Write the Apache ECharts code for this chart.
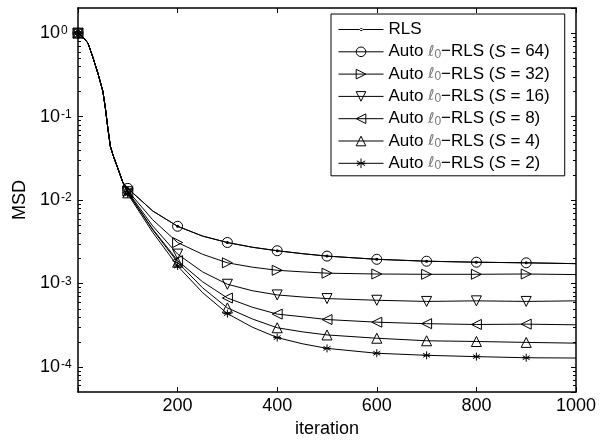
<!DOCTYPE html>
<html><head><meta charset="utf-8">
<script src="https://cdn.jsdelivr.net/npm/echarts@6/dist/echarts.min.js"></script>
<style>html,body{margin:0;padding:0;background:#fff}#c{width:600px;height:443px}</style>
</head><body><div id="c"></div>
<script>
// ---- data ----
const iterations = [0,10,20,30,40,50,55,60,65,70,80,90,100,150,200,250,300,350,400,450,500,600,700,800,900,1000];
const markerIterations = [0,100,200,300,400,500,600,700,800,900];
// common transient, iterations 0..90
const commonHead = [1.0,0.89,0.76,0.51,0.33,0.2,0.126,0.072,0.044,0.035,0.024,0.0163];
// iterations 100,150,200,250,300,350,400,450,500,600,700,800,900,1000
const msdRLS = [0.0138,0.0074,0.00485,0.0037,0.0031,0.00272,0.00247,0.00228,0.00213,0.00195,0.00185,0.0018,0.00177,0.00173];
const msdS64 = [0.0138,0.0074,0.00485,0.0037,0.0031,0.00272,0.00247,0.00228,0.00213,0.00195,0.00185,0.0018,0.00177,0.00173];
const msdS32 = [0.0129,0.0058,0.0031,0.00224,0.00177,0.00157,0.00144,0.00138,0.00133,0.0013,0.00129,0.00129,0.0013,0.00128];
const msdS16 = [0.0126,0.0049,0.00225,0.00138,0.00098,0.00082,0.00073,0.00069,0.00066,0.00063,0.00061,0.00062,0.00061,0.00062];
const msdS8  = [0.0123,0.0045,0.00188,0.00105,0.00067,0.00052,0.00043,0.0004,0.00037,0.000344,0.00033,0.000323,0.000326,0.00032];
const msdS4  = [0.0122,0.0044,0.0018,0.00089,0.00051,0.000376,0.000295,0.000264,0.000242,0.000221,0.000206,0.000202,0.000197,0.000193];
const msdS2  = [0.0118,0.0041,0.00162,0.00078,0.000436,0.0003,0.000225,0.00019,0.000167,0.000146,0.000138,0.000133,0.000129,0.000128];
const sValues = [64,32,16,8,4,2];
const xTickLabels = [200,400,600,800,1000];
const yTickExponents = [-4,-3,-2,-1,0];
const yMinorTicks = [6e-5,7e-5,8e-5,9e-5,
  2e-4,3e-4,4e-4,5e-4,6e-4,7e-4,8e-4,9e-4,
  2e-3,3e-3,4e-3,5e-3,6e-3,7e-3,8e-3,9e-3,
  2e-2,3e-2,4e-2,5e-2,6e-2,7e-2,8e-2,9e-2,
  2e-1,3e-1,4e-1,5e-1,6e-1,7e-1,8e-1,9e-1];

// ---- chart ----
const FONT = "'Liberation Sans', Arial, Helvetica, sans-serif";
const chart = echarts.init(document.getElementById('c'), null, {renderer:'canvas'});

function buildData(tail){
  const vals = commonHead.concat(tail);
  return iterations.map((it,i) => {
    const item = {value:[it, vals[i]]};
    if (markerIterations.indexOf(it) < 0) item.symbol = 'none';
    return item;
  });
}
const asterisk = 'path://M5,0L5,10M0.67,2.5L9.33,7.5M0.67,7.5L9.33,2.5M0,5L10,5';
const rlsIcon = 'path://M0,5.5L45,5.5L45,6.5L0,6.5Z M21.2,6A1.5,1.5 0 1 0 24.2,6A1.5,1.5 0 1 0 21.2,6Z';

const names = ['RLS'].concat(sValues.map(s => 'Auto \u21130-RLS (S = ' + s + ')'));
const tails = [msdRLS, msdS64, msdS32, msdS16, msdS8, msdS4, msdS2];
const markerDefs = [
  {symbol:'circle', size:3, rotate:0, fill:'#000'},
  {symbol:'circle', size:10, rotate:0},
  {symbol:'triangle', size:10, rotate:-90},
  {symbol:'triangle', size:10, rotate:180},
  {symbol:'triangle', size:10, rotate:90},
  {symbol:'triangle', size:10, rotate:0},
  {symbol:asterisk, size:8, rotate:0}
];

const lineSeries = names.map((n,k) => {
  const m = markerDefs[k];
  return {
    name:n, type:'line', data:buildData(tails[k]),
    xAxisIndex:0, yAxisIndex:0,
    symbol:m.symbol, symbolSize:m.size, symbolRotate:m.rotate, showAllSymbol:true,
    smooth:false,
    lineStyle:{color:'#000', width:1},
    itemStyle:{color: m.fill || 'rgba(0,0,0,0)', borderColor:'#000', borderWidth: m.fill ? 0 : 1},
    emphasis:{disabled:true}, animation:false,
    z: k===0 ? 5 : 3
  };
});
const ordered = lineSeries.slice(1).concat([lineSeries[0]]);

const minorTickSeries = {
  type:'custom', name:'minor', silent:true, animation:false,
  xAxisIndex:0, yAxisIndex:0, z:10,
  data: yMinorTicks.map(v => [0, v]),
  encode:{x:0, y:1},
  renderItem: function(params, api){
    const p = api.coord([0, api.value(1)]);
    const cs = params.coordSys;
    const y = Math.round(p[1]) + 0.5;
    return {type:'group', children:[
      {type:'line', shape:{x1:cs.x, y1:y, x2:cs.x+3, y2:y}, style:{stroke:'#000', lineWidth:1}},
      {type:'line', shape:{x1:cs.x+cs.width, y1:y, x2:cs.x+cs.width-3, y2:y}, style:{stroke:'#000', lineWidth:1}}
    ]};
  }
};

const axisLineStyle = {color:'#000', width:1.5};
const option = {
  backgroundColor:'#fff',
  animation:false,
  grid:{left:78, right:24, top:8, bottom:44},
  legend:{
    orient:'vertical', left:331, top:14,
    padding:[7,15,4,7], itemWidth:45, itemHeight:12, itemGap:5.3, itemTextGap:10,
    backgroundColor:'#fff', borderColor:'#000', borderWidth:1, borderRadius:0,
    selectedMode:false,
    lineStyle:{width:1, color:'#000'},
    itemStyle:{borderWidth:1},
    data:[{name:'RLS', icon:rlsIcon, itemStyle:{borderWidth:0}}].concat(names.slice(1)),
    formatter: function(name){
      if (name === 'RLS') return '{t|RLS}';
      const s = name.match(/= (\d+)/)[1];
      return '{t|Auto }{l|\u2113}{z|0}{t|\u2212RLS (}{i|S}{t| = ' + s + ')}';
    },
    textStyle:{fontFamily:FONT, fontSize:17, color:'#000', lineHeight:17,
      rich:{
        t:{fontFamily:FONT, fontSize:17, color:'#000', lineHeight:17},
        i:{fontFamily:FONT, fontSize:17, color:'#000', lineHeight:17, fontStyle:'italic'},
        l:{fontFamily:'DejaVu Sans', fontSize:15, color:'#777', lineHeight:17, fontStyle:'italic'},
        z:{fontFamily:FONT, fontSize:12, color:'#777', lineHeight:13, verticalAlign:'bottom'}
      }
    }
  },
  xAxis:[
    {type:'value', min:0, max:1000, interval:200, position:'bottom',
     axisLine:{show:true, onZero:false, lineStyle:axisLineStyle},
     axisTick:{show:true, inside:true, length:5, lineStyle:{color:'#000', width:1}},
     axisLabel:{fontFamily:FONT, fontSize:18, color:'#000', margin:5,
       formatter: v => xTickLabels.indexOf(v) >= 0 ? String(v) : ''},
     splitLine:{show:false},
     name:'iteration', nameLocation:'middle', nameGap:24,
     nameTextStyle:{fontFamily:FONT, fontSize:18, color:'#000'}},
    {type:'value', min:0, max:1000, interval:200, position:'top',
     axisLine:{show:true, onZero:false, lineStyle:axisLineStyle},
     axisTick:{show:true, inside:true, length:5, lineStyle:{color:'#000', width:1}},
     axisLabel:{show:false}, splitLine:{show:false}}
  ],
  yAxis:[
    {type:'log', logBase:10, min:5e-5, max:2, position:'left',
     axisLine:{show:true, onZero:false, lineStyle:axisLineStyle},
     axisTick:{show:true, inside:true, length:5, lineStyle:{color:'#000', width:1}},
     axisLabel:{margin:38, align:'left', showMinLabel:false, showMaxLabel:false,
       formatter: function(v){
         const e = Math.log10(v);
         const r = Math.round(e);
         if (Math.abs(e - r) > 1e-6 || yTickExponents.indexOf(r) < 0) return '';
         return '{b|10}{s|' + (r === 0 ? '0' : '-' + Math.abs(r)) + '}';
       },
       rich:{
         b:{fontFamily:FONT, fontSize:18, color:'#000', lineHeight:18, verticalAlign:'bottom', padding:[2,0,0,0]},
         s:{fontFamily:FONT, fontSize:12, color:'#000', lineHeight:12, verticalAlign:'top', padding:[1,0,0,1]}
       }},
     splitLine:{show:false},
     name:'MSD', nameLocation:'middle', nameGap:48, nameRotate:90,
     nameTextStyle:{fontFamily:FONT, fontSize:18, color:'#000'}},
    {type:'log', logBase:10, min:5e-5, max:2, position:'right',
     axisLine:{show:true, onZero:false, lineStyle:axisLineStyle},
     axisTick:{show:true, inside:true, length:5, lineStyle:{color:'#000', width:1}},
     axisLabel:{show:false}, splitLine:{show:false}}
  ],
  series: ordered.concat([minorTickSeries])
};
chart.setOption(option);
</script>
</body></html>
